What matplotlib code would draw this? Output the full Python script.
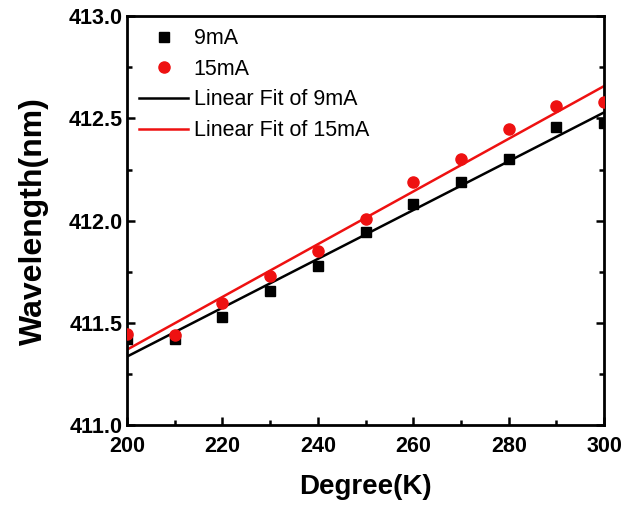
import matplotlib
matplotlib.use('Agg')
import matplotlib.pyplot as plt
import numpy as np
from matplotlib.ticker import MultipleLocator

# data
temperature = [200, 210, 220, 230, 240, 250, 260, 270, 280, 290, 300]
wl_9ma = [411.42, 411.42, 411.53, 411.655, 411.78, 411.945, 412.08, 412.19, 412.30, 412.46, 412.48]
wl_15ma = [411.445, 411.44, 411.60, 411.73, 411.85, 412.01, 412.19, 412.30, 412.45, 412.56, 412.58]

plt.rcParams['font.family'] = ['Liberation Sans', 'DejaVu Sans']
plt.rcParams['font.weight'] = 'bold'

fig = plt.figure(figsize=(6.38, 5.08), dpi=100)
ax = fig.add_axes([0.199, 0.163, 0.748, 0.805])

x = np.array(temperature)
ax.plot(x, wl_9ma, 's', color='black', markersize=7, label='9mA', zorder=3)
ax.plot(x, wl_15ma, 'o', color='#ee1111', markersize=8, label='15mA', zorder=3)

# linear fits
xs = np.array([200, 300])
p9 = np.polyfit(x, wl_9ma, 1)
p15 = np.polyfit(x, wl_15ma, 1)
ax.plot(xs, np.polyval(p9, xs), color='black', lw=1.8, label='Linear Fit of 9mA')
ax.plot(xs, np.polyval(p15, xs), color='#ee1111', lw=1.8, label='Linear Fit of 15mA')

ax.set_xlim(200, 300)
ax.set_ylim(411.0, 413.0)
ax.xaxis.set_major_locator(MultipleLocator(20))
ax.xaxis.set_minor_locator(MultipleLocator(10))
ax.yaxis.set_major_locator(MultipleLocator(0.5))
ax.yaxis.set_minor_locator(MultipleLocator(0.25))
ax.tick_params(which='both', direction='in', top=False, right=True, width=1.8)
ax.tick_params(which='major', length=6, labelsize=15.5, pad=3)
ax.tick_params(axis='x', which='major', pad=8)
ax.tick_params(which='minor', length=3.5)
for s in ax.spines.values():
    s.set_linewidth(2)

ax.set_xlabel('Degree(K)', fontsize=20, fontweight='bold', labelpad=12)
ax.set_ylabel('Wavelength(nm)', fontsize=23, fontweight='bold', labelpad=14)

ax.legend(loc='upper left', frameon=False, handlelength=2.3,
          handletextpad=0.25, borderaxespad=0.1, labelspacing=0.45,
          borderpad=0.45, prop={'weight': 'normal', 'size': 15.5})

plt.savefig('out.png', dpi=100)
plt.close()
